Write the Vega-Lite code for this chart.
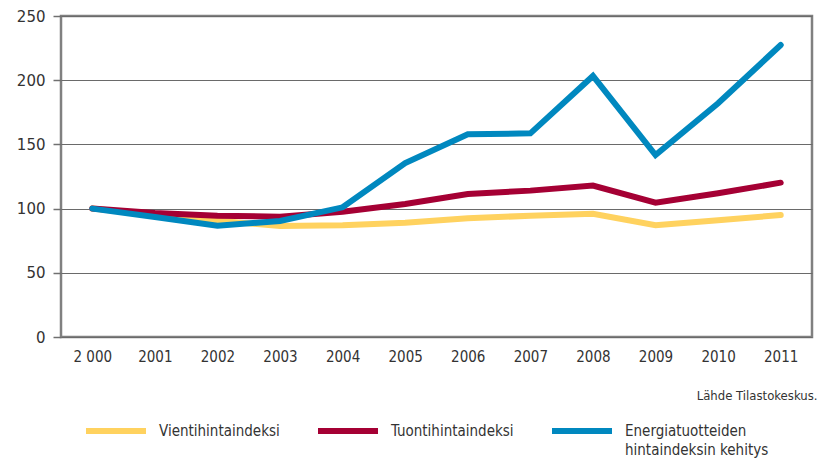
{
  "$schema": "https://vega.github.io/schema/vega-lite/v6.json",
  "width": 751,
  "height": 321,
  "autosize": {"type": "none"},
  "padding": {"left": 61, "top": 16, "right": 5, "bottom": 122},
  "background": "white",
  "config": {
    "view": {"stroke": "#808080", "strokeWidth": 2.5},
    "font": "DejaVu Sans Condensed"
  },
  "data": {
    "values": [
      {"year": "2 000", "series": "Vientihintaindeksi", "value": 100},
      {"year": "2001", "series": "Vientihintaindeksi", "value": 95},
      {"year": "2002", "series": "Vientihintaindeksi", "value": 90.5},
      {"year": "2003", "series": "Vientihintaindeksi", "value": 86.5},
      {"year": "2004", "series": "Vientihintaindeksi", "value": 87},
      {"year": "2005", "series": "Vientihintaindeksi", "value": 89},
      {"year": "2006", "series": "Vientihintaindeksi", "value": 92.4},
      {"year": "2007", "series": "Vientihintaindeksi", "value": 94.5},
      {"year": "2008", "series": "Vientihintaindeksi", "value": 96},
      {"year": "2009", "series": "Vientihintaindeksi", "value": 87},
      {"year": "2010", "series": "Vientihintaindeksi", "value": 91},
      {"year": "2011", "series": "Vientihintaindeksi", "value": 95},
      {"year": "2 000", "series": "Tuontihintaindeksi", "value": 100},
      {"year": "2001", "series": "Tuontihintaindeksi", "value": 96.5},
      {"year": "2002", "series": "Tuontihintaindeksi", "value": 94.5},
      {"year": "2003", "series": "Tuontihintaindeksi", "value": 93.7},
      {"year": "2004", "series": "Tuontihintaindeksi", "value": 97.5},
      {"year": "2005", "series": "Tuontihintaindeksi", "value": 103.6},
      {"year": "2006", "series": "Tuontihintaindeksi", "value": 111.4},
      {"year": "2007", "series": "Tuontihintaindeksi", "value": 114},
      {"year": "2008", "series": "Tuontihintaindeksi", "value": 117.9},
      {"year": "2009", "series": "Tuontihintaindeksi", "value": 104.6},
      {"year": "2010", "series": "Tuontihintaindeksi", "value": 111.9},
      {"year": "2011", "series": "Tuontihintaindeksi", "value": 120.2},
      {"year": "2 000", "series": "Energiatuotteiden hintaindeksin kehitys", "value": 100},
      {"year": "2001", "series": "Energiatuotteiden hintaindeksin kehitys", "value": 93.5},
      {"year": "2002", "series": "Energiatuotteiden hintaindeksin kehitys", "value": 86.7},
      {"year": "2003", "series": "Energiatuotteiden hintaindeksin kehitys", "value": 90.3},
      {"year": "2004", "series": "Energiatuotteiden hintaindeksin kehitys", "value": 101},
      {"year": "2005", "series": "Energiatuotteiden hintaindeksin kehitys", "value": 135.5},
      {"year": "2006", "series": "Energiatuotteiden hintaindeksin kehitys", "value": 157.9},
      {"year": "2007", "series": "Energiatuotteiden hintaindeksin kehitys", "value": 158.6},
      {"year": "2008", "series": "Energiatuotteiden hintaindeksin kehitys", "value": 203.3},
      {"year": "2009", "series": "Energiatuotteiden hintaindeksin kehitys", "value": 141.7},
      {"year": "2010", "series": "Energiatuotteiden hintaindeksin kehitys", "value": 182},
      {"year": "2011", "series": "Energiatuotteiden hintaindeksin kehitys", "value": 227.4}
    ]
  },
  "mark": {"type": "line", "strokeWidth": 6, "strokeJoin": "miter", "strokeCap": "round"},
  "encoding": {
    "x": {
      "field": "year",
      "type": "ordinal",
      "sort": null,
      "scale": {"type": "point", "padding": 0.5},
      "axis": {
        "title": "Lähde Tilastokeskus.",
        "titleFont": "DejaVu Sans Condensed",
        "titleFontSize": 13,
        "titleFontWeight": "normal",
        "titleColor": "#333333",
        "titleAnchor": "end",
        "titleAlign": "right",
        "titleX": 756,
        "titleY": 52,
        "labelAngle": 0,
        "labelFontSize": 15,
        "labelColor": "#333333",
        "labelPadding": 12,
        "ticks": false,
        "domain": false,
        "grid": false
      }
    },
    "y": {
      "field": "value",
      "type": "quantitative",
      "scale": {"domain": [0, 250]},
      "axis": {
        "title": null,
        "values": [0, 50, 100, 150, 200, 250],
        "labelFont": "DejaVu Sans",
        "labelFontSize": 15,
        "labelColor": "#333333",
        "labelPadding": 8,
        "tickSize": 8,
        "tickColor": "#707070",
        "tickWidth": 1.5,
        "domain": false,
        "grid": true,
        "gridColor": "#6a6a6a",
        "gridWidth": 1.2,
        "gridOpacity": 1
      }
    },
    "color": {
      "field": "series",
      "type": "nominal",
      "sort": ["Vientihintaindeksi", "Tuontihintaindeksi", "Energiatuotteiden hintaindeksin kehitys"],
      "scale": {
        "domain": ["Vientihintaindeksi", "Tuontihintaindeksi", "Energiatuotteiden hintaindeksin kehitys"],
        "range": ["#FFD25F", "#A50034", "#0088BF"]
      },
      "legend": {
        "title": null,
        "orient": "none",
        "legendX": 22,
        "legendY": 382,
        "direction": "horizontal",
        "columns": 3,
        "symbolType": "stroke",
        "symbolSize": 3600,
        "symbolStrokeWidth": 6,
        "symbolOffset": 0,
        "labelFontSize": 15,
        "labelColor": "#333333",
        "labelOffset": 10,
        "labelLimit": 300,
        "labelBaseline": "alphabetic",
        "columnPadding": 26,
        "encode": {
          "labels": {"update": {
            "dy": {"value": 5},
            "lineHeight": {"value": 19}
          }}
        },
        "labelExpr": "datum.label == 'Energiatuotteiden hintaindeksin kehitys' ? ['Energiatuotteiden', 'hintaindeksin kehitys'] : [datum.label, ' ']"
      }
    }
  }
}
